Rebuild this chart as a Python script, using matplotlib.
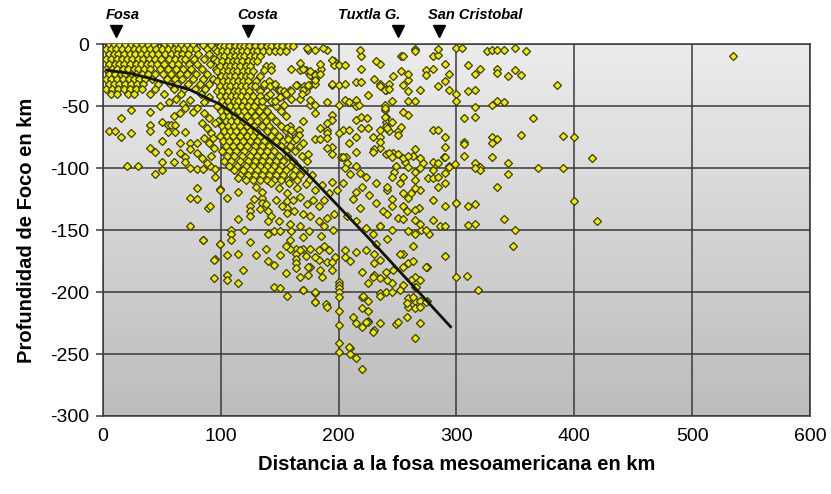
import matplotlib.pyplot as plt
import numpy as np
from matplotlib.colors import LinearSegmentedColormap

plt.rcParams['font.family'] = ['Liberation Sans', 'DejaVu Sans']
plt.rcParams['axes.unicode_minus'] = False

# --- Hipocentros (distancia a la fosa en km, profundidad en km) ---
# zona densa junto a la fosa: (profundidad, [distancias])
fosa_rows = [
    (-1, [5, 9, 14, 19, 24, 28, 33, 38, 43, 52, 57, 62, 66, 71, 76, 85, 92]),
    (-4, [3, 7, 11, 16, 21, 26, 31, 35, 40, 45, 50, 55, 60, 64, 69, 74, 79, 88, 95]),
    (-8, [5, 9, 13, 18, 23, 27, 32, 37, 42, 47, 53, 58, 63, 67, 72, 81, 90]),
    (-12, [3, 7, 12, 16, 20, 25, 30, 34, 39, 44, 49, 56, 61, 66, 70, 77, 86, 94]),
    (-16, [5, 10, 14, 18, 23, 28, 32, 37, 41, 46, 52, 59, 64, 73, 80, 91]),
    (-20, [3, 8, 12, 17, 21, 26, 30, 35, 40, 48, 55, 62, 68, 75, 84, 96]),
    (-24, [5, 10, 15, 19, 24, 28, 33, 38, 44, 51, 58, 65, 71, 79, 88]),
    (-28, [3, 7, 12, 17, 22, 26, 31, 36, 42, 54, 61, 67, 76, 85, 93]),
    (-32, [5, 9, 14, 19, 24, 29, 34, 47, 57, 63, 72, 82, 90]),
    (-36, [3, 8, 13, 18, 23, 28, 33, 44, 60, 69, 78, 87]),
    (-40, [7, 12, 21, 26, 40, 52, 66, 83]),
]

# bloque bajo la costa: (profundidad, [distancias])
costa_rows = [
    (-2, [99, 103, 107, 112, 116, 120, 124, 129, 134, 139, 143, 148, 152, 157, 161]),
    (-6, [97, 101, 105, 110, 114, 118, 122, 127, 131, 136, 141, 146, 150, 155]),
    (-10, [99, 103, 108, 112, 116, 120, 125, 129, 133]),
    (-14, [97, 101, 106, 110, 114, 118, 123, 127, 131]),
    (-18, [99, 104, 108, 112, 116, 121, 125, 138, 143]),
    (-22, [97, 102, 106, 110, 114, 119, 123, 127]),
    (-26, [100, 104, 108, 112, 117, 121, 125, 133]),
    (-30, [97, 102, 106, 110, 115, 119, 123, 130, 141]),
    (-34, [99, 104, 108, 113, 117, 121, 126, 137, 145]),
    (-38, [97, 101, 106, 111, 115, 119, 124, 133, 149]),
    (-42, [99, 104, 109, 113, 117, 122, 127, 139, 153]),
    (-46, [101, 106, 111, 115, 120, 125, 131, 143]),
    (-50, [97, 103, 108, 113, 118, 123, 128, 135, 147]),
    (-54, [100, 105, 110, 115, 120, 126, 132, 139, 151]),
    (-58, [102, 107, 112, 117, 122, 129, 136, 143, 155]),
    (-62, [98, 104, 109, 114, 119, 125, 131, 138, 147]),
    (-66, [101, 106, 111, 116, 122, 128, 135, 141, 151, 159]),
    (-70, [103, 108, 113, 119, 125, 130, 139, 145, 155]),
    (-74, [99, 105, 110, 116, 122, 127, 133, 143, 149, 158, 164]),
    (-78, [102, 107, 113, 119, 125, 131, 137, 147, 153, 161]),
    (-82, [104, 110, 116, 122, 129, 135, 141, 151, 159, 167]),
    (-86, [101, 107, 113, 120, 127, 133, 139, 145, 155, 163]),
    (-90, [105, 111, 118, 125, 131, 137, 143, 149, 157, 169]),
    (-94, [103, 109, 116, 123, 129, 135, 141, 147, 153, 161, 173]),
    (-98, [107, 114, 121, 127, 133, 139, 145, 151, 159, 165]),
    (-102, [111, 119, 125, 131, 137, 143, 149, 155, 163, 171]),
    (-106, [116, 123, 129, 135, 141, 147, 153, 161, 167, 177]),
    (-110, [121, 127, 133, 139, 145, 151, 157, 165, 175]),
]

# sismos dispersos al oeste (0-100 km, bajo -40 km)
oeste_pts = [
    (24, -53), (15, -60), (5, -70), (10, -70), (15, -75), (24, -72), (40, -55),
    (40, -65), (40, -70), (50, -63), (55, -65), (58, -65), (61, -65), (55, -71),
    (61, -71), (60, -58), (65, -56), (70, -71), (50, -78), (65, -80), (40, -84),
    (44, -87), (55, -87), (65, -88), (74, -80), (74, -85), (70, -91), (70, -95),
    (60, -95), (50, -95), (80, -88), (80, -80), (20, -98), (30, -98), (44, -105),
    (50, -102), (74, -100), (80, -101), (85, -101), (91, -98), (95, -101),
    (95, -107), (80, -116), (74, -124), (80, -125), (89, -132), (74, -147),
    (85, -158), (99, -117), (99, -161), (95, -173), (86, -56), (90, -60),
    (84, -64), (88, -68), (92, -72), (86, -76), (90, -80), (94, -84), (84, -92),
    (88, -96), (92, -90), (95, -64), (93, -76), (62, -44), (68, -48), (74, -45),
    (80, -52), (86, -47), (90, -43), (76, -55), (70, -52), (56, -47), (48, -50),
]

# cuerpo intermedio (100-200 km, -110 a -210 km)
medio_pts = [
    (99, -118), (105, -124), (91, -131), (115, -108), (115, -119), (115, -141),
    (125, -131), (125, -135), (125, -139), (135, -124), (135, -128), (140, -135),
    (143, -139), (140, -143), (145, -151), (150, -151), (156, -127), (156, -132),
    (156, -136), (109, -150), (109, -153), (109, -158), (99, -161), (85, -158),
    (105, -170), (115, -169), (94, -174), (119, -182), (105, -186), (105, -190),
    (94, -189), (115, -193), (140, -175), (145, -178), (145, -196), (150, -197),
    (156, -203), (170, -198), (180, -201), (180, -208), (189, -210), (164, -165),
    (164, -169), (164, -173), (164, -177), (164, -181), (159, -165), (170, -165),
    (176, -165), (143, -112), (149, -116), (156, -120), (161, -126), (167, -123),
    (173, -129), (178, -126), (183, -131), (188, -126), (192, -120), (196, -137),
    (176, -139), (183, -143), (188, -147), (167, -147), (159, -145), (149, -143),
    (140, -153), (159, -158), (167, -166), (183, -166), (188, -163), (192, -166),
    (183, -174), (176, -180), (167, -188), (186, -188), (130, -115), (135, -119),
    (128, -125), (133, -133), (138, -129), (147, -126), (152, -131), (162, -135),
    (170, -137), (180, -118), (186, -114), (194, -111), (199, -118), (172, -113),
    (165, -116), (158, -112), (190, -140), (195, -150), (185, -155), (175, -151),
    (170, -156), (160, -151), (155, -163), (150, -170), (172, -171), (180, -172),
    (190, -176), (197, -172), (194, -182), (155, -185), (125, -160), (130, -170),
    (120, -150), (138, -165),
]

# sismos profundos (170-300 km, bajo -165 km)
profundo_pts = [
    (210, -245), (210, -250), (215, -253), (220, -262), (200, -192), (200, -194),
    (200, -197), (200, -200), (200, -204), (200, -215), (200, -227), (200, -241),
    (200, -248), (180, -208), (190, -212), (180, -200), (170, -198), (220, -204),
    (225, -207), (220, -213), (225, -215), (225, -223), (225, -224), (215, -225),
    (220, -228), (230, -231), (235, -201), (235, -203), (240, -200), (245, -200),
    (249, -226), (259, -205), (265, -207), (259, -212), (265, -213), (269, -207),
    (275, -207), (269, -225), (265, -237), (255, -194), (265, -188), (265, -196),
    (269, -190), (275, -180), (290, -171), (300, -188), (174, -180), (174, -186),
    (184, -182), (194, -176), (205, -166), (205, -172), (210, -175), (215, -168),
    (220, -184), (225, -193), (230, -169), (230, -177), (230, -186), (235, -189),
    (240, -184), (245, -193), (255, -169), (259, -177), (274, -208), (209, -244),
    (318, -198), (309, -187), (235, -225), (250, -224),
]

# corteza superior entre la costa y los Altos (130-260 km, 0 a -90 km)
altos_pts = [
    (137, -21), (143, -21), (160, -20), (167, -15), (167, -21), (172, -21),
    (176, -25), (180, -24), (185, -20), (180, -28), (165, -33), (171, -34),
    (176, -33), (172, -38), (180, -32), (196, -14), (196, -17), (194, -33),
    (129, -34), (137, -32), (142, -34), (146, -32), (150, -37), (154, -38),
    (159, -37), (142, -40), (150, -43), (133, -42), (135, -46), (146, -46),
    (154, -49), (167, -44), (176, -49), (176, -45), (190, -47), (174, -5),
    (180, -5), (190, -5), (173, -3), (187, -3), (194, -13), (200, -17),
    (205, -17), (184, -16), (170, -20), (176, -22), (180, -25), (184, -24),
    (180, -29), (174, -33), (164, -33), (170, -37), (169, -40), (160, -38),
    (155, -40), (160, -44), (194, -32), (200, -33), (205, -32), (219, -10),
    (219, -20), (218, -5), (235, -16), (230, -28), (215, -31), (219, -31),
    (225, -41), (235, -32), (240, -37), (243, -32), (253, -10), (253, -22),
    (180, -49), (180, -56), (200, -49), (205, -45), (209, -47), (215, -45),
    (215, -50), (217, -49), (170, -62), (156, -68), (160, -69), (166, -69),
    (166, -73), (164, -77), (157, -77), (184, -68), (190, -69), (194, -57),
    (194, -61), (190, -64), (190, -72), (180, -77), (184, -77), (190, -76),
    (194, -83), (190, -84), (194, -89), (170, -80), (174, -89), (204, -69),
    (209, -69), (200, -72), (209, -80), (215, -75), (215, -61), (219, -59),
    (224, -60), (219, -68), (225, -68), (229, -75), (235, -75), (235, -84),
    (230, -85), (235, -79), (239, -49), (239, -53), (240, -59), (240, -63),
    (243, -70), (250, -70), (250, -73), (253, -67), (246, -88), (250, -89),
    (240, -66), (240, -89), (202, -91), (206, -91), (232, -14), (246, -26),
]

# bajo los Altos de Chiapas (200-305 km, -85 a -235 km)
chiapas_pts = [
    (204, -91), (215, -87), (229, -87), (243, -88), (207, -96), (215, -98),
    (218, -104), (204, -112), (215, -119), (223, -107), (232, -112), (241, -118),
    (252, -112), (261, -120), (269, -118), (280, -102), (289, -91), (294, -98),
    (290, -112), (300, -128), (280, -126), (290, -131), (286, -147), (280, -142),
    (277, -153), (263, -163), (252, -169), (263, -175), (255, -180), (261, -190),
    (266, -196), (274, -180), (263, -204), (269, -212), (258, -220), (207, -139),
    (215, -143), (223, -148), (229, -153), (235, -147), (241, -157), (232, -161),
    (223, -166), (235, -174), (246, -182), (241, -190), (252, -198), (258, -209),
    (229, -188), (221, -203), (212, -220), (223, -224), (229, -232), (205, -100),
    (210, -105), (220, -115), (226, -122), (232, -128), (238, -135), (245, -125),
    (250, -140), (258, -135), (265, -142), (270, -150), (212, -125), (218, -132),
    (247, -103), (256, -95), (263, -90), (272, -96), (276, -108), (284, -115),
    (268, -132),
]

# extremo oriental (230-540 km)
oriente_pts = [
    (255, -10), (265, -4), (265, -6), (280, -10), (284, -9), (284, -4), (290, -16),
    (274, -21), (274, -25), (280, -20), (294, -24), (290, -30), (294, -37),
    (284, -34), (255, -33), (259, -29), (259, -24), (239, -37), (243, -36),
    (235, -34), (259, -38), (269, -37), (259, -46), (265, -46), (245, -46),
    (300, -40), (300, -46), (310, -17), (316, -24), (320, -20), (310, -38),
    (316, -37), (334, -20), (334, -23), (344, -26), (350, -21), (355, -25),
    (326, -6), (330, -5), (334, -5), (340, -5), (350, -3), (359, -6), (300, -3),
    (305, -3), (385, -33), (330, -49), (334, -46), (340, -47), (316, -51),
    (316, -59), (306, -60), (365, -60), (355, -73), (390, -74), (400, -75),
    (330, -75), (330, -80), (334, -77), (306, -79), (306, -81), (306, -90),
    (330, -91), (344, -96), (344, -105), (316, -96), (320, -99), (320, -102),
    (316, -100), (299, -97), (369, -100), (390, -100), (415, -92), (334, -115),
    (400, -127), (419, -143), (340, -141), (350, -150), (348, -163), (310, -131),
    (316, -129), (310, -146), (316, -145), (300, -128), (290, -147), (239, -52),
    (239, -59), (241, -68), (235, -69), (245, -63), (255, -55), (259, -57),
    (280, -69), (284, -69), (290, -75), (290, -83), (265, -85), (245, -91),
    (255, -92), (259, -90), (269, -92), (249, -98), (259, -99), (265, -103),
    (269, -100), (280, -95), (284, -96), (290, -91), (294, -99), (245, -107),
    (255, -107), (265, -110), (280, -108), (284, -107), (290, -104), (241, -115),
    (255, -120), (265, -116), (259, -124), (245, -131), (255, -131), (265, -134),
    (241, -137), (269, -145), (255, -141), (235, -147), (245, -150), (259, -151),
    (265, -153), (274, -150), (535, -10),
]

# geometría de la placa subducida
slab_x = [3, 25, 45, 74, 100, 125, 153, 175, 195, 215, 235, 265, 295]
slab_z = [-21, -24, -29, -37, -49, -66, -86, -106, -126, -146, -166, -197, -228]

# referencias en superficie
sitios = ['Fosa', 'Costa', 'Tuxtla G.', 'San Cristobal']
sitios_x = [11, 123, 250, 285]


def rows_to_xy(rows):
    xs, zs = [], []
    for z, xlist in rows:
        xs += xlist
        zs += [z] * len(xlist)
    return xs, zs


xs, zs = [], []
for rows in (fosa_rows, costa_rows):
    rx, rz = rows_to_xy(rows)
    xs += rx
    zs += rz
for pts in (oeste_pts, medio_pts, profundo_pts, altos_pts, chiapas_pts, oriente_pts):
    xs += [p[0] for p in pts]
    zs += [p[1] for p in pts]

fig = plt.figure(figsize=(8.31, 4.94), dpi=100)
ax = fig.add_axes([0.1239, 0.1579, 0.8508, 0.7530])

# fondo degradado
grad = np.linspace(0, 1, 256).reshape(-1, 1)
cmap = LinearSegmentedColormap.from_list('fondo', ['#ececec', '#bcbcbc'])
ax.imshow(grad, extent=[0, 600, -300, 0], aspect='auto', cmap=cmap,
          origin='upper', zorder=0)

ax.set_xlim(0, 600)
ax.set_ylim(-300, 0)
ax.set_xticks(range(0, 601, 100))
ax.set_yticks(range(-300, 1, 50))
ax.set_axisbelow(True)
ax.grid(True, color='#3a3a3a', lw=1.1)
for s in ax.spines.values():
    s.set_color('#3a3a3a')
    s.set_linewidth(1.1)
ax.tick_params(axis='x', length=0, pad=9, labelsize=14)
ax.tick_params(axis='y', length=5, width=1.1, color='#3a3a3a', pad=5, labelsize=14)

ax.plot(xs, zs, 'D', ls='none', ms=3.9, mfc='#eeee00', mec='#3c3c00', mew=0.9,
        zorder=3)
ax.plot(slab_x, slab_z, color='#111111', lw=2, zorder=4)

for name, x in zip(sitios, sitios_x):
    ax.plot(x, 10.5, 'v', ms=9, color='black', clip_on=False)
    if name == 'Tuxtla G.':
        ax.text(x + 2, 23.5, name, ha='right', va='center', fontsize=10.5,
                fontweight='bold', fontstyle='italic')
    else:
        ax.text(x - 9, 23.5, name, ha='left', va='center', fontsize=10.5,
                fontweight='bold', fontstyle='italic')

ax.set_xlabel('Distancia a la fosa mesoamericana en km', fontsize=14.5,
              fontweight='bold', labelpad=7)
ax.set_ylabel('Profundidad de Foco en km', fontsize=14.5, fontweight='bold',
              labelpad=10)

fig.savefig('out.png', dpi=100)
